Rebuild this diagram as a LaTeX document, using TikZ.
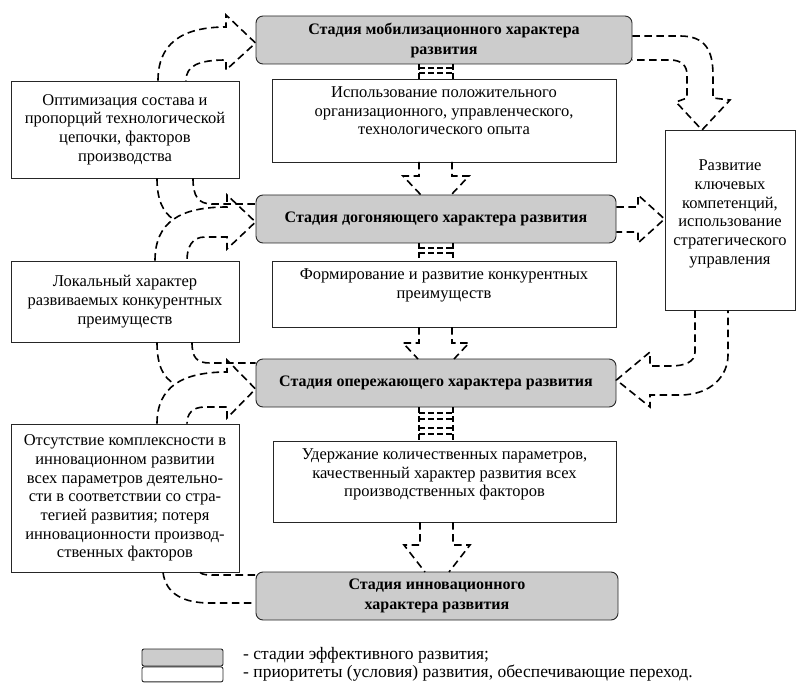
\documentclass[tikz,border=0pt]{standalone}
\usepackage{fontspec}
\setmainfont{Liberation Serif}
\usetikzlibrary{positioning}

\begin{document}
\begin{tikzpicture}[
    x=1pt, y=-1pt,
    font=\fontsize{16.5}{18.7}\selectfont,
    box/.style={draw=black!85, line width=0.9pt, fill=white, inner sep=0pt},
    stage/.style={
      box, fill=black!20, rounded corners=7pt, align=center,
      font=\fontsize{16}{20}\selectfont\bfseries
    },
    prio/.style={box, align=center},
    txt/.style={align=center, inner sep=0pt},
    key/.style={anchor=west, inner sep=0pt, font=\fontsize{17.5}{18}\selectfont},
    flow/.style={line width=1.6pt, dash pattern=on 7.5pt off 4.5pt},
    gate/.style={line width=1.3pt, dash pattern=on 6pt off 3pt},
  ]
    \useasboundingbox (0,0) rectangle (802,684);

    % stages
    \node[stage, minimum width=376pt, minimum height=48pt] (s1) at (444,40)
      {Стадия мобилизационного характера\\развития};
    \node[stage, minimum width=360pt, minimum height=48pt] (s2) at (436,219)
      {Стадия догоняющего характера развития};
    \node[stage, minimum width=360pt, minimum height=48pt] (s3) at (436,383)
      {Стадия опережающего характера развития};
    \node[stage, minimum width=362pt, minimum height=48pt] (s4) at (437,596)
      {Стадия инновационного\\характера развития};

    % priorities in the middle
    \node[prio, minimum width=344pt, minimum height=83pt] (m1) at (444,120.5) {};
    \node[txt, below=8pt of m1.north] (m1_txt)
      {Использование положительного\\организационного, управленческого,\\технологического опыта};
    \node[prio, minimum width=344pt, minimum height=66pt] (m2) at (444,294) {};
    \node[txt, below=8pt of m2.north] (m2_txt)
      {Формирование и развитие конкурентных\\преимуществ};
    \node[prio, minimum width=343pt, minimum height=81pt] (m3) at (444.5,481.5) {};
    \node[txt, below=8pt of m3.north] (m3_txt)
      {Удержание количественных параметров,\\качественный характер развития всех\\производственных факторов};

    % priorities on the left
    \node[prio, minimum width=228pt, minimum height=97pt] (l1) at (125,129.5)
      {Оптимизация состава и\\пропорций технологической\\цепочки, факторов\\производства};
    \node[prio, minimum width=228pt, minimum height=81pt] (l2) at (125,301.5)
      {Локальный характер\\развиваемых конкурентных\\преимуществ};
    \node[prio, minimum width=228pt, minimum height=148pt] (l3) at (125,498)
      {Отсутствие комплексности в\\инновационном развитии\\всех параметров деятельно-\\сти в соответствии со стра-\\тегией развития; потеря\\инновационности производ-\\ственных факторов};

    % priority on the right
    \node[prio, minimum width=130pt, minimum height=180pt] (r) at (730,220) {};
    \node[txt] (r_txt) at (730,214)
      {Развитие\\ключевых\\компетенций,\\использование\\стратегического\\управления};

    % left arrows
    \draw[flow] ([xshift=33pt]l1.north) .. controls (158,45) and (180,27) .. (226,27)
      -- (226,15) -- ([yshift=-3pt]s1.west) -- (226,70) -- (226,60)
      .. controls (198,60) and (186,66) .. ([xshift=61pt]l1.north);
    \draw[flow] ([xshift=30pt]l2.north) .. controls (155,222) and (180,207) .. (227,207)
      -- (227,195) -- ([yshift=-3pt]s2.west) -- (227,249) -- (227,237) -- (205,237)
      .. controls (192,237) and (187,247) .. ([xshift=62pt]l2.north);
    \draw[flow] ([xshift=32pt]l1.south) .. controls (157,200) and (163,212) .. (173,219);
    \draw[flow] ([xshift=68pt]l1.south) .. controls (193,196) and (198,204) .. (212,204)
      -- (s2.west |- 0,204);
    \draw[flow] ([xshift=32pt]l3.north) .. controls (157,387) and (182,372) .. (227,372)
      -- (227,360) -- ([yshift=-6pt]s3.west) -- (227,418) -- (227,407) -- (205,407)
      .. controls (192,407) and (187,414) .. ([xshift=62pt]l3.north);
    \draw[flow] ([xshift=32pt]l2.south) .. controls (157,365) and (163,378) .. (175,384);
    \draw[flow] ([xshift=67pt]l2.south) .. controls (192,358) and (197,363) .. (210,363)
      -- (s3.west |- 0,363);
    \draw[flow] ([xshift=38pt]l3.south) .. controls (166,595) and (185,603) .. (210,603)
      -- (s4.west |- 0,603);
    \draw[flow] ([xshift=75pt]l3.south) .. controls (203,575) and (207,575) .. (215,575)
      -- (s4.west |- 0,575);

    % down arrows
    \draw[flow] (419,162) -- (419,176) -- (403,176) -- (421,195);
    \draw[flow] (452,162) -- (452,176) -- (469,176) -- (451,195);
    \draw[flow] (419,327) -- (419,343) -- (403,343) -- (418,359);
    \draw[flow] (452,327) -- (452,343) -- (469,343) -- (454,359);
    \draw[flow] (420,522) -- (420,545) -- (404,545) -- (425,572);
    \draw[flow] (453,522) -- (453,545) -- (470,545) -- (449,572);

    % short joints stage -> priority
    \draw[gate] (419,64) -- (419,79) (453,64) -- (453,79)
      (419,68) -- (453,68) (419,73) -- (453,73);
    \draw[gate] (419,243) -- (419,259) (453,243) -- (453,259)
      (419,248) -- (453,248) (419,253) -- (453,253);
    \draw[gate] (419,407) -- (419,441) (453,407) -- (453,441)
      (419,413) -- (453,413) (419,419) -- (453,419)
      (419,428) -- (453,428) (419,434) -- (453,434);

    % right arrows
    \draw[flow] (s1.east |- 0,36) -- (680,36) .. controls (705,36) and (713,50) .. (713,75)
      -- (713,98) -- (730,100) -- (702,130) -- (676,102) -- (687,98) -- (687,75)
      .. controls (687,66) and (682,60) .. (670,60) -- (s1.east |- 0,60);
    \draw[flow] (s2.east |- 0,207) -- (638,207) -- (638,195) -- (r.west |- 0,219)
      -- (638,243) -- (638,232) -- (s2.east |- 0,232);
    \draw[flow] ([xshift=-35pt]r.south) -- (695,352) .. controls (695,362) and (685,366) .. (670,366)
      -- (650,366) -- (650,352) -- ([yshift=3pt]s3.east) -- (650,407) -- (650,395) -- (680,395)
      .. controls (712,395) and (728,375) .. (728,355) -- ([xshift=-2pt]r.south);

    % legend
    \node[box, fill=black!20, rounded corners=2pt, minimum width=81pt, minimum height=17pt]
      (key1) at (182.5,657.5) {};
    \node[box, rounded corners=2pt, minimum width=81pt, minimum height=15pt,
      below=0pt of key1] (key2) {};
    \node[key] (key1_txt) at (243,655) {- стадии эффективного развития;};
    \node[key] (key2_txt) at (243,673) {- приоритеты (условия) развития, обеспечивающие переход.};
\end{tikzpicture}
\end{document}
